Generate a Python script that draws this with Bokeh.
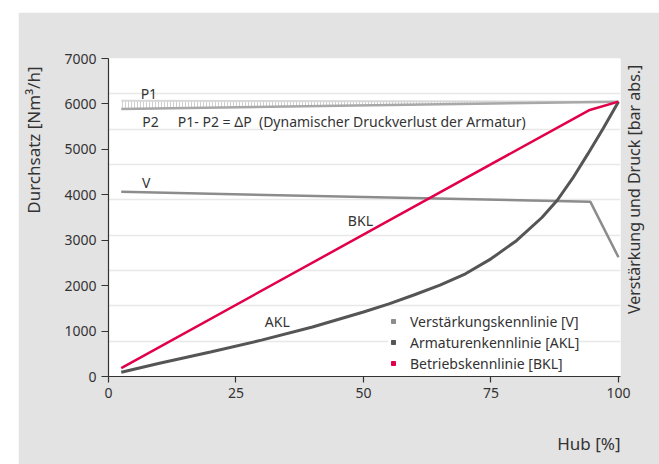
import math
from bokeh.plotting import figure
from bokeh.models import Legend, LegendItem, Label, Range1d, FixedTicker, Spacer, LinearAxis, Title
from bokeh.layouts import row, column
from bokeh.embed import file_html
from bokeh.resources import INLINE

# ---- data ----
x_ticks = [0, 25, 50, 75, 100]
y_ticks = [0, 1000, 2000, 3000, 4000, 5000, 6000, 7000]
grid_levels = [777.8, 1555.6, 2333.3, 3111.1, 3888.9, 4666.7, 5444.4, 6222.2]

hub_p = [2.5, 100]
p1_vals = [6070, 6050]
p2_vals = [5890, 6050]

hub_v = [2.5, 94.5, 100]
v_vals = [4065, 3845, 2625]

hub_akl = [2.5, 10, 20, 30, 40, 50, 55, 60, 65, 70, 75, 80, 85, 88, 91, 94, 97, 100]
akl_vals = [95, 290, 540, 800, 1090, 1420, 1600, 1800, 2010, 2260, 2590, 2990, 3500, 3880, 4360, 4900, 5460, 6050]

hub_bkl = [2.5, 94.2, 100]
bkl_vals = [185, 5860, 6050]

legend_labels = ["Verstärkungskennlinie [V]", "Armaturenkennlinie [AKL]", "Betriebskennlinie [BKL]"]

FONT = "Noto Sans"
TXT = "#333333"
C_V = "#8c8c8c"
C_AKL = "#555555"
C_BKL = "#e2004a"
BG = "#e3e3e3"
NB = "\u00a0"

p = figure(width=641, height=452, x_range=Range1d(0, 100.4), y_range=Range1d(0, 7000),
           output_backend="svg", toolbar_location=None,
           min_border_left=90, min_border_right=39, min_border_top=46, min_border_bottom=88)
p.border_fill_color = BG
p.background_fill_color = "white"
p.outline_line_color = None

p.xgrid.visible = False
p.ygrid.ticker = FixedTicker(ticks=grid_levels)
p.ygrid.grid_line_color = "#e8e8e8"
p.ygrid.grid_line_width = 1.5

p.xaxis.ticker = FixedTicker(ticks=x_ticks)
p.yaxis.ticker = FixedTicker(ticks=y_ticks)
for ax in (p.xaxis[0], p.yaxis[0]):
    ax.axis_line_color = "#333333"
    ax.axis_line_width = 1.2
    ax.major_tick_line_color = "#333333"
    ax.major_tick_line_width = 1.2
    ax.major_tick_in = 0
    ax.minor_tick_line_color = None
    ax.major_label_text_font = FONT
    ax.major_label_text_font_size = "14px"
    ax.major_label_text_color = TXT
    ax.major_label_standoff = 5
    ax.axis_label_text_font = FONT
p.xaxis.major_tick_out = 6
p.yaxis.major_tick_out = 7
# blank axis labels used only as spacing before the axis titles
p.xaxis.axis_label = NB
p.xaxis.axis_label_text_font_size = "16px"
p.xaxis.axis_label_standoff = 4
p.yaxis.axis_label = NB
p.yaxis.axis_label_text_font_size = "8px"
p.yaxis.axis_label_standoff = 3

# axis titles
t_left = Title(text="Durchsatz [Nm³/h]", align="right", offset=8, standoff=0,
               vertical_align="bottom",
               text_font=FONT, text_font_size="17px", text_font_style="normal",
               text_color=TXT)
p.add_layout(t_left, "left")
t_below = Title(text="Hub [%]", align="right", offset=0, standoff=0,
                vertical_align="bottom",
                text_font=FONT, text_font_size="17px", text_font_style="normal",
                text_color=TXT)
p.add_layout(t_below, "below")

rax = LinearAxis(ticker=FixedTicker(ticks=[]), axis_line_color=None,
                 major_tick_line_color=None, minor_tick_line_color=None,
                 axis_label=NB * 15 + "Verstärkung und Druck [bar abs.]",
                 axis_label_text_font=FONT, axis_label_text_font_size="16px",
                 axis_label_text_font_style="normal", axis_label_text_color=TXT,
                 axis_label_align="start",
                 axis_label_standoff=13, axis_label_orientation=math.pi / 2)
p.add_layout(rax, "right")

# pressure band P1 / P2
p.varea(x=hub_p, y1=p2_vals, y2=p1_vals, fill_alpha=0, hatch_pattern="|",
        hatch_color="#cfcfcf", hatch_scale=3, hatch_weight=1)
p.line(hub_p, p1_vals, line_color="#d8d8d8", line_width=2)
p.line(hub_p, p2_vals, line_color="#a8a8a8", line_width=2.5)

p.line(hub_v, v_vals, line_color=C_V, line_width=2.5)
p.line(hub_akl, akl_vals, line_color=C_AKL, line_width=3)
p.line(hub_bkl, bkl_vals, line_color=C_BKL, line_width=2.5)

# legend with square markers (hidden marker renderers on the same data)
r_v = p.scatter(x=hub_v, y=v_vals, marker="square", size=8, color=C_V, visible=False)
r_a = p.scatter(x=hub_akl, y=akl_vals, marker="square", size=8, color=C_AKL, visible=False)
r_b = p.scatter(x=hub_bkl, y=bkl_vals, marker="square", size=8, color=C_BKL, visible=False)
legend = Legend(items=[LegendItem(label=legend_labels[0], renderers=[r_v]),
                       LegendItem(label=legend_labels[1], renderers=[r_a]),
                       LegendItem(label=legend_labels[2], renderers=[r_b])],
                location=(280, 3), padding=4, spacing=1, glyph_width=10, glyph_height=20,
                label_height=20, label_standoff=12, border_line_color=None,
                background_fill_color="white", background_fill_alpha=1,
                label_text_font=FONT, label_text_font_size="14px", label_text_color=TXT)
p.add_layout(legend, "center")

def lab(x, y, text, size="14px", align="left"):
    p.add_layout(Label(x=x, y=y, text=text, text_font=FONT, text_font_size=size,
                       text_color=TXT, text_align=align, text_baseline="middle"))

lab(6.3, 6240, "P1")
lab(6.6, 5610, "P2")
lab(13.6, 5610, "P1- P2 = ΔP" + NB + NB + "(Dynamischer Druckverlust der Armatur)")
lab(7.4, 4270, "V", align="center")
lab(49.4, 3440, "BKL", align="center")
lab(33.1, 1210, "AKL", align="center")

layout = column(Spacer(height=12), row(Spacer(width=18), p))
open("out.html", "w").write(file_html(layout, INLINE))
